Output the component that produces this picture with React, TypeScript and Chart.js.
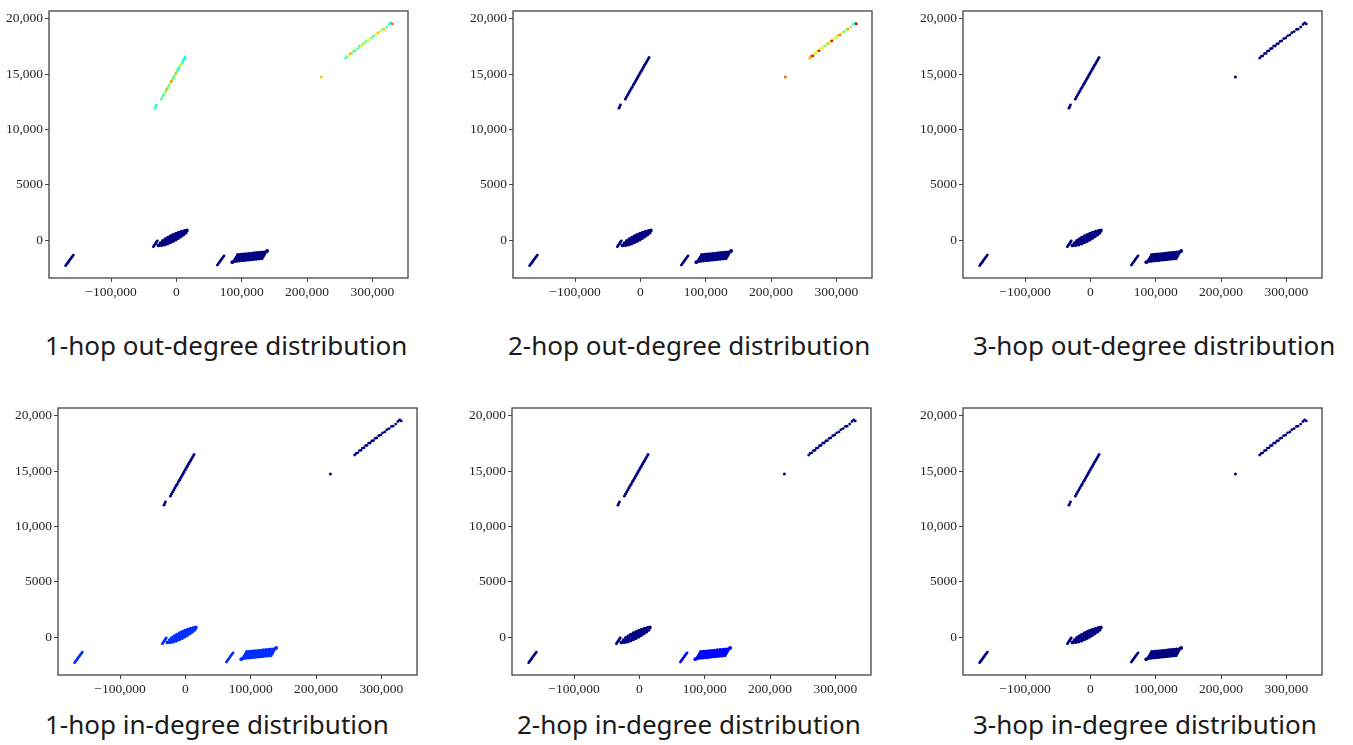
import React, { useEffect, useRef } from "react";
import { Chart, registerables } from "chart.js";
Chart.register(...registerables);

// ---- ticks ----
const xTickValues = [-100000, 0, 100000, 200000, 300000];
const xTickLabels = ["\u2212100,000", "0", "100,000", "200,000", "300,000"];
const yTickValues = [0, 5000, 10000, 15000, 20000];
const yTickLabels = ["0", "5000", "10,000", "15,000", "20,000"];

const titles = [
  "1-hop out-degree distribution",
  "2-hop out-degree distribution",
  "3-hop out-degree distribution",
  "1-hop in-degree distribution",
  "2-hop in-degree distribution",
  "3-hop in-degree distribution",
];

// ---- point clusters (x, y) ----
const lineA = [
  [-169500, -2310], [-168200, -2200], [-166900, -2100], [-165600, -1990], [-164300, -1880],
  [-163000, -1780], [-161700, -1670], [-160400, -1570], [-159000, -1460], [-157700, -1350],
];
const stubB = [
  [-35200, -600], [-34000, -490], [-32800, -380], [-31600, -270], [-30400, -160], [-29200, -60],
];
const blobB = [
  [-27440, -480],
  [-24200, -261], [-22517, -453],
  [-20677, -73], [-19275, -233], [-17873, -393],
  [-16874, 84], [-15192, -109], [-13510, -302],
  [-12932, 224], [-11740, 87], [-10478, -57], [-9286, -194],
  [-8919, 355], [-7657, 211], [-6395, 67], [-5133, -78],
  [-4836, 479], [-3574, 335], [-2312, 191], [-1050, 46],
  [-613, 587], [579, 451], [1701, 323], [2893, 186],
  [3681, 686], [5223, 510], [6765, 334],
  [8044, 778], [9306, 634], [10568, 490],
  [12618, 846], [14160, 670],
  [16000, 880],
];
const lineC = [
  [62800, -2250], [64200, -2130], [65700, -2010], [67100, -1890],
  [68600, -1770], [70000, -1650], [71500, -1530], [73000, -1420],
];
const blobD = [
  [94160, -1343], [98380, -1316], [102600, -1290], [106810, -1263], [111030, -1236], [115245, -1209],
  [119460, -1182], [123680, -1156], [127890, -1129], [132110, -1102], [136330, -1075], [139000, -980],
  [92330, -1526], [96550, -1499], [100760, -1473], [104980, -1446], [109200, -1419], [113410, -1392],
  [117630, -1365], [121840, -1339], [126060, -1312], [130280, -1285], [134490, -1258],
  [90410, -1719], [94630, -1692], [98840, -1666], [103060, -1639], [107280, -1612], [111490, -1585],
  [115710, -1558], [119925, -1532], [124140, -1505], [128360, -1478], [132575, -1451],
  [88580, -1903], [92790, -1876], [97010, -1850], [101230, -1823], [105440, -1796], [109660, -1769],
  [113880, -1742], [118090, -1716], [122310, -1689], [126525, -1662], [130740, -1635], [85600, -1990],
];
const lineEStub = [[-32800, 11920], [-31700, 12060], [-30500, 12210]];
const lineE = [
  [-23000, 12750], [-21300, 12940], [-19600, 13110], [-17800, 13300], [-16100, 13470],
  [-14400, 13650], [-12700, 13820], [-10900, 14010], [-9200, 14180], [-7500, 14360],
  [-5800, 14540], [-4000, 14720], [-2300, 14900], [-600, 15070], [1100, 15250],
  [2900, 15430], [4600, 15610], [6300, 15790], [8000, 15960], [9800, 16140],
  [11500, 16320], [13200, 16500],
];
const lineF = [
  [259200, 16450], [261500, 16600], [264000, 16650], [266500, 16850], [268800, 16880],
  [271000, 17080], [273500, 17100], [275800, 17300], [278000, 17320], [280500, 17530],
  [283000, 17540], [285500, 17730], [288000, 17760], [290500, 17960], [293000, 18000],
  [296000, 18200], [299000, 18260], [302000, 18460], [305500, 18540], [308500, 18740],
  [312000, 18840], [315500, 19040], [318000, 19060], [322000, 19250], [325500, 19480],
  [328000, 19620], [330500, 19530],
];
const outlier = [[222000, 14730]];
const in1Highlight = [[1500, 380], [3000, 450]];
const in2Stripes = [
  [89000, -1850], [90700, -1650], [92300, -1450], [93800, -1270],
  [104000, -1930], [105800, -1730], [107500, -1540], [109500, -1370],
];

// ---- colour values (jet scale 0..1) ----
const NAVY = 0;
const BLUE_IN1 = 0.17;
const BLUE_IN2 = 0.13;
const out1StubV = [0.42, 0.45, 0.4];
const out1LineEV = [0.45, 0.5, 0.42, 0.55, 0.48, 0.72, 0.5, 0.45, 0.6, 0.75, 0.5, 0.42, 0.55, 0.7, 0.48, 0.38, 0.45, 0.6, 0.5, 0.42, 0.4, 0.36];
const out1LineFV = [0.42, 0.45, 0.6, 0.72, 0.5, 0.55, 0.4, 0.62, 0.45, 0.38, 0.58, 0.5, 0.65, 0.42, 0.55, 0.6, 0.48, 0.4, 0.62, 0.7, 0.55, 0.5, 0.68, 0.45, 0.4, 0.38, 0.78];
const out1OutlierV = 0.68;
const out2LineFV = [0.7, 0.75, 0.9, 0.6, 0.55, 0.62, 0.88, 0.6, 0.58, 0.65, 0.5, 0.55, 0.7, 0.6, 0.9, 0.62, 0.55, 0.68, 0.75, 0.6, 0.45, 0.55, 0.72, 0.5, 0.45, 0.42, 0.95];
const out2OutlierV = 0.78;
const in1HighlightV = 0.3;
const in2StripeV = 0.45;

function jet(v: number) {
  const c = (x: number) => Math.round(255 * Math.max(0, Math.min(1, x)));
  return `rgb(${c(1.5 - Math.abs(4 * v - 3))},${c(1.5 - Math.abs(4 * v - 2))},${c(1.5 - Math.abs(4 * v - 1))})`;
}

type Layer = { pts: number[][]; v: number | number[]; r: number };
const L = (pts: number[][], v: number | number[], r: number): Layer => ({ pts, v, r });
const RL = 1.4; // line point radius
const RB = 1.9; // blob point radius
const RE = 1.5; // upper-left line radius

const panelLayers: Layer[][] = [
  [L(lineA, NAVY, RL), L(stubB, NAVY, RL), L(blobB, NAVY, RB), L(lineC, NAVY, RL), L(blobD, NAVY, RB),
   L(lineEStub, out1StubV, RL), L(lineE, out1LineEV, RE), L(lineF, out1LineFV, RL), L(outlier, out1OutlierV, 1.5)],
  [L(lineA, NAVY, RL), L(stubB, NAVY, RL), L(blobB, NAVY, RB), L(lineC, NAVY, RL), L(blobD, NAVY, RB),
   L(lineEStub, NAVY, RL), L(lineE, NAVY, RE), L(lineF, out2LineFV, RL), L(outlier, out2OutlierV, 1.5)],
  [L(lineA, NAVY, RL), L(stubB, NAVY, RL), L(blobB, NAVY, RB), L(lineC, NAVY, RL), L(blobD, NAVY, RB),
   L(lineEStub, NAVY, RL), L(lineE, NAVY, RE), L(lineF, NAVY, RL), L(outlier, NAVY, 1.5)],
  [L(lineA, BLUE_IN1, RL), L(stubB, BLUE_IN1, RL), L(blobB, BLUE_IN1, RB), L(lineC, BLUE_IN1, RL), L(blobD, BLUE_IN1, RB),
   L(in1Highlight, in1HighlightV, 1.3),
   L(lineEStub, NAVY, RL), L(lineE, NAVY, RE), L(lineF, NAVY, RL), L(outlier, NAVY, 1.5)],
  [L(lineA, NAVY, RL), L(stubB, NAVY, RL), L(blobB, NAVY, RB), L(lineC, BLUE_IN2, RL), L(blobD, BLUE_IN2, RB),
   L(in2Stripes, in2StripeV, 1.3),
   L(lineEStub, NAVY, RL), L(lineE, NAVY, RE), L(lineF, NAVY, RL), L(outlier, NAVY, 1.5)],
  [L(lineA, NAVY, RL), L(stubB, NAVY, RL), L(blobB, NAVY, RB), L(lineC, NAVY, RL), L(blobD, NAVY, RB),
   L(lineEStub, NAVY, RL), L(lineE, NAVY, RE), L(lineF, NAVY, RL), L(outlier, NAVY, 1.5)],
];

// ---- layout ----
const PLOT_W = 359;
const PLOT_H = 267;
const YW = 48;
const PT = 12;
const PR = 12;
const XH = 26;
const CW = YW + PLOT_W + PR;
const CH = PT + PLOT_H + XH;
const plotPos = [
  [49, 11], [513, 11], [963, 11],
  [58, 408], [512, 408], [963, 408],
];
const titlePos = [
  [45, 330], [508, 330], [973, 330],
  [45, 709], [517, 709], [973, 709],
];

const boxPlugin = {
  id: "box",
  afterDraw(chart: any) {
    const { ctx, chartArea } = chart;
    ctx.save();
    ctx.strokeStyle = "#444";
    ctx.lineWidth = 1.3;
    ctx.strokeRect(chartArea.left, chartArea.top, chartArea.right - chartArea.left, chartArea.bottom - chartArea.top);
    ctx.restore();
  },
};

function Panel({ idx }: { idx: number }) {
  const ref = useRef<HTMLCanvasElement>(null);
  useEffect(() => {
    const layers = panelLayers[idx];
    const datasets = layers.map((l) => ({
      data: l.pts.map(([x, y]) => ({ x, y })),
      pointRadius: l.r,
      pointHoverRadius: l.r,
      pointBorderWidth: 0,
      pointBackgroundColor: Array.isArray(l.v) ? l.v.map(jet) : jet(l.v),
      showLine: false,
    }));
    const tickFont = { family: "Liberation Serif", size: 13.5 };
    const chart = new Chart(ref.current as HTMLCanvasElement, {
      type: "scatter",
      data: { datasets } as any,
      options: {
        animation: false,
        responsive: false,
        devicePixelRatio: 1,
        events: [],
        layout: { padding: { top: PT, right: PR, left: 0, bottom: 0 } },
        plugins: { legend: { display: false }, tooltip: { enabled: false } },
        scales: {
          x: {
            type: "linear",
            bounds: "data",
            min: -195000,
            max: 354600,
            afterBuildTicks: (s: any) => { s.ticks = xTickValues.map((value) => ({ value })); },
            afterFit: (s: any) => { s.height = XH; },
            ticks: {
              autoSkip: false,
              maxRotation: 0,
              padding: 2,
              color: "#262626",
              font: tickFont,
              callback: (v: any) => { const i = xTickValues.indexOf(Number(v)); return i >= 0 ? xTickLabels[i] : ""; },
            },
            grid: { display: true, drawOnChartArea: false, drawTicks: true, tickLength: 4, color: "#444" },
            border: { display: false },
          },
          y: {
            type: "linear",
            bounds: "data",
            min: -3420,
            max: 20700,
            afterBuildTicks: (s: any) => { s.ticks = yTickValues.map((value) => ({ value })); },
            afterFit: (s: any) => { s.width = YW; },
            ticks: {
              autoSkip: false,
              padding: 2,
              color: "#262626",
              font: tickFont,
              callback: (v: any) => { const i = yTickValues.indexOf(Number(v)); return i >= 0 ? yTickLabels[i] : ""; },
            },
            grid: { display: true, drawOnChartArea: false, drawTicks: true, tickLength: 4, color: "#444" },
            border: { display: false },
          },
        },
      } as any,
      plugins: [boxPlugin],
    });
    return () => chart.destroy();
  }, [idx]);
  const [l, t] = plotPos[idx];
  return (
    <canvas
      ref={ref}
      width={CW}
      height={CH}
      style={{ position: "absolute", left: l - YW, top: t - PT, width: CW, height: CH }}
    />
  );
}

export default function App() {
  return (
    <div style={{ position: "absolute", left: 0, top: 0, width: 1353, height: 745, background: "#fff", overflow: "hidden" }}>
      {panelLayers.map((_, i) => <Panel key={i} idx={i} />)}
      {titles.map((t, i) => (
        <div
          key={"t" + i}
          style={{
            position: "absolute",
            left: titlePos[i][0],
            top: titlePos[i][1],
            fontFamily: "'Noto Sans', sans-serif",
            fontSize: 26,
            lineHeight: "30px",
            color: "#1a1a1a",
            whiteSpace: "nowrap",
          }}
        >
          {t}
        </div>
      ))}
    </div>
  );
}
